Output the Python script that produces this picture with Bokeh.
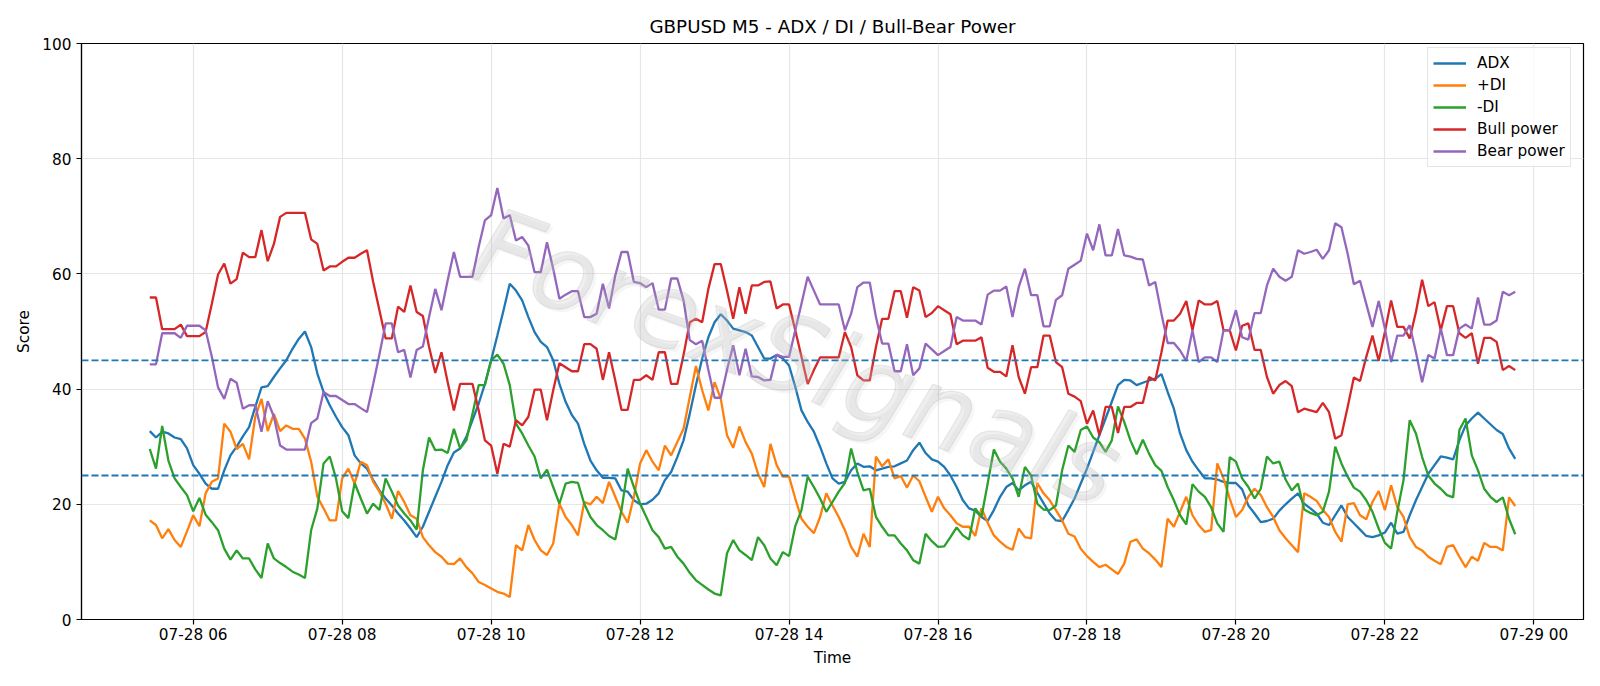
import pandas as pd
from bokeh.plotting import figure
from bokeh.models import (Range1d, FixedTicker, DatetimeTickFormatter, Span,
                          Label, Legend, LegendItem)
from bokeh.embed import file_html
from bokeh.resources import INLINE

# ---- data: GBPUSD M5 indicator scores, 5-minute bars ----
start_time = "2025-07-28 05:25"
bar_count = 221
times = pd.date_range(start_time, periods=bar_count, freq="5min")

adx = [
    32.7, 31.6, 32.6, 32.3, 31.6, 31.3, 29.7, 26.8, 25.3, 23.6,
    22.7, 22.7, 25.9, 28.5, 30.0, 31.8, 33.4, 36.9, 40.3, 40.5,
    42.1, 43.6, 45.0, 47.0, 48.7,
    50.0, 47.3, 42.7, 39.5, 37.2, 35.2, 33.4, 32.0, 28.5, 27.1,
    26.2, 24.2, 22.4, 21.0, 19.8, 18.4, 17.2, 15.8, 14.3, 16.1,
    18.7, 21.3, 23.9, 26.8, 29.0,
    29.7, 31.7, 34.6, 37.5, 40.9, 45.0, 49.3, 53.7, 58.3, 57.1,
    55.4, 52.5, 49.9, 48.2, 47.3, 45.0, 40.9, 37.8, 35.5, 34.0,
    30.5, 27.6, 25.9, 24.6, 24.6,
    24.5, 22.4, 22.2, 20.7, 20.0, 20.1, 20.8, 21.9, 24.2, 25.6,
    28.2, 31.1, 35.7, 40.7, 45.3, 49.0, 51.6, 53.0, 51.9, 50.5,
    50.2, 49.9, 49.3, 47.3, 45.3,
    45.3, 45.9, 45.3, 44.1, 40.4, 36.3, 34.3, 32.6, 30.0, 27.1,
    24.5, 23.6, 23.9, 25.9, 27.1, 26.5, 26.6, 25.9, 26.2, 26.5,
    26.6, 27.1, 27.6, 29.4, 30.7,
    28.9, 27.8, 27.4, 26.5, 25.0, 23.0, 20.7, 19.3, 18.9, 17.8,
    17.1, 19.0, 21.3, 23.0, 23.7, 22.4, 23.3, 23.9, 22.0, 20.2,
    18.4, 17.2, 17.1, 19.0, 21.0,
    23.6, 26.2, 29.1, 32.0, 34.9, 37.8, 40.7, 41.6, 41.5, 40.7,
    41.1, 41.5, 41.8, 42.6, 39.5, 36.6, 32.3, 29.4, 27.4, 25.9,
    24.5, 24.5, 24.3, 23.9, 23.7,
    23.7, 22.6, 19.8, 18.4, 16.9, 17.1, 17.5, 18.9, 20.0, 21.0,
    21.9, 20.1, 19.3, 18.4, 16.8, 16.4, 18.1, 19.8, 17.8, 16.7,
    15.6, 14.5, 14.3, 14.6, 15.1,
    16.8, 14.9, 15.2, 18.1, 20.7, 23.0, 25.3, 26.8, 28.3, 28.1,
    27.8, 31.1, 33.7, 34.9, 35.9, 34.9, 33.9, 32.9, 32.2, 29.7,
    27.9,
]

plus_di = [
    17.2, 16.4, 14.1, 15.7, 13.8, 12.6, 15.3, 18.1, 16.2, 21.9,
    23.9, 24.5, 34.0, 32.6, 29.6, 30.5, 27.8, 35.2, 38.3, 32.7,
    35.7, 32.7, 33.7, 33.1, 33.1,
    31.4, 27.4, 21.3, 19.3, 17.2, 17.2, 24.5, 26.2, 23.6, 27.4,
    26.8, 23.9, 22.2, 20.1, 17.5, 22.3, 20.4, 18.1, 17.5, 14.3,
    12.9, 11.7, 10.9, 9.7, 9.6,
    10.6, 9.1, 8.0, 6.5, 6.0, 5.4, 4.8, 4.5, 3.9, 12.9,
    12.0, 16.4, 13.8, 12.0, 11.2, 13.2, 20.1, 17.8, 16.4, 14.6,
    20.4, 20.0, 21.3, 20.2, 23.9,
    21.3, 18.7, 16.8, 21.3, 27.1, 29.4, 27.4, 25.9, 30.2, 28.5,
    30.8, 33.1, 38.6, 44.0, 39.8, 36.3, 41.2, 38.3, 32.0, 29.8,
    33.5, 30.8, 28.8, 25.3, 23.0,
    30.5, 26.8, 24.8, 24.8, 21.0, 17.5, 16.1, 15.0, 17.8, 21.9,
    19.8, 17.8, 15.5, 12.6, 10.9, 14.9, 12.6, 28.3, 26.6, 27.8,
    24.5, 24.9, 22.9, 25.0, 24.0,
    21.3, 18.7, 21.3, 19.3, 18.1, 16.7, 16.1, 16.1, 14.5, 19.3,
    16.8, 14.6, 13.5, 12.6, 12.1, 15.8, 14.3, 14.1, 23.7, 21.9,
    20.7, 19.0, 17.2, 14.9, 14.4,
    12.3, 11.0, 10.0, 9.1, 9.5, 8.7, 7.9, 9.7, 13.5, 13.9,
    12.3, 11.5, 10.4, 9.1, 17.5, 16.1, 18.7, 21.3, 18.1, 16.4,
    15.2, 15.5, 27.1, 24.5, 21.0,
    17.8, 19.0, 21.3, 22.7, 21.6, 19.5, 17.8, 15.5, 14.1, 12.9,
    11.7, 21.9, 21.3, 20.6, 19.0, 17.8, 15.2, 13.5, 20.0, 20.2,
    18.1, 17.4, 20.4, 22.3, 19.0,
    23.3, 19.5, 17.8, 14.3, 12.6, 12.0, 10.9, 10.2, 9.6, 12.6,
    12.9, 10.9, 9.1, 10.9, 10.2, 13.3, 12.6, 12.6, 12.0, 21.2,
    19.7,
]

minus_di = [
    29.6, 26.2, 33.6, 27.6, 24.5, 23.0, 21.6, 18.8, 21.1, 18.2,
    16.9, 15.5, 12.3, 10.4, 12.0, 10.6, 10.6, 8.7, 7.2, 13.2,
    10.6, 9.8, 9.1, 8.3, 7.8,
    7.2, 15.5, 19.3, 27.1, 28.3, 24.5, 18.8, 17.6, 23.7, 21.0,
    18.4, 20.1, 19.0, 24.5, 22.2, 19.8, 18.4, 17.2, 15.6, 25.9,
    31.6, 29.4, 29.5, 28.9, 33.1,
    29.7, 31.1, 35.7, 40.7, 40.7, 45.0, 46.0, 44.4, 40.7, 34.0,
    32.3, 30.2, 28.3, 24.5, 26.0, 23.0, 20.1, 23.6, 23.9, 23.7,
    20.1, 17.8, 16.4, 15.5, 14.5,
    13.9, 19.0, 26.2, 23.0, 20.1, 17.8, 15.5, 14.3, 12.3, 12.6,
    10.9, 9.7, 8.1, 6.8, 6.0, 5.2, 4.5, 4.2, 11.5, 13.8,
    12.0, 11.2, 10.3, 14.3, 12.9,
    10.6, 9.4, 11.7, 11.0, 16.2, 19.0, 24.8, 23.0, 21.0, 18.7,
    20.4, 22.2, 23.7, 29.7, 25.6, 22.4, 22.7, 17.8, 16.1, 14.6,
    14.6, 13.2, 12.0, 10.3, 9.7,
    14.9, 13.6, 12.6, 12.7, 14.3, 16.0, 14.6, 13.9, 19.3, 17.8,
    23.6, 29.5, 27.4, 26.2, 24.5, 21.3, 26.5, 25.0, 20.1, 19.1,
    19.0, 19.8, 25.9, 30.2, 29.1,
    32.9, 33.5, 31.6, 30.8, 29.1, 31.1, 37.0, 34.3, 31.1, 28.7,
    31.2, 28.8, 26.8, 25.8, 23.0, 20.7, 18.1, 16.5, 23.5, 22.2,
    21.3, 19.5, 16.7, 15.2, 28.2,
    27.4, 24.5, 23.0, 21.0, 22.7, 28.3, 27.1, 27.4, 24.3, 22.4,
    23.6, 19.1, 18.5, 18.1, 18.7, 22.2, 30.0, 27.1, 24.8, 22.9,
    22.2, 20.7, 18.7, 15.8, 13.3,
    12.3, 18.7, 24.2, 34.6, 32.3, 28.2, 25.0, 23.6, 22.7, 21.6,
    21.2, 32.9, 34.9, 28.5, 25.9, 22.7, 21.3, 20.4, 21.2, 17.5,
    14.8,
]

bull_power = [
    55.9, 55.9, 50.4, 50.4, 50.4, 51.2, 49.2, 49.2, 49.2, 49.9,
    54.8, 59.9, 61.8, 58.3, 59.1, 63.7, 62.9, 62.9, 67.6, 62.2,
    65.2, 69.9, 70.6, 70.6, 70.6,
    70.6, 66.0, 65.2, 60.6, 61.3, 61.3, 62.1, 62.8, 62.8, 63.5,
    64.1, 58.6, 53.7, 48.8, 48.8, 54.3, 53.4, 58.0, 53.4, 52.7,
    47.3, 42.8, 46.4, 41.2, 36.3,
    40.9, 40.9, 40.9, 36.3, 31.1, 30.2, 25.3, 30.5, 30.0, 34.6,
    33.7, 35.2, 39.9, 39.9, 34.6, 39.8, 44.5, 43.8, 43.1, 43.1,
    47.8, 47.8, 47.0, 41.6, 46.4,
    41.5, 36.4, 36.4, 41.6, 41.6, 42.4, 41.6, 46.4, 46.4, 40.9,
    40.9, 45.9, 51.6, 52.2, 51.6, 57.4, 61.7, 61.7, 57.1, 52.2,
    57.7, 53.1, 58.0, 58.0, 58.6,
    58.7, 54.0, 54.7, 54.7, 50.2, 45.6, 40.9, 43.3, 45.5, 45.5,
    45.5, 45.5, 49.9, 47.3, 42.4, 41.5, 41.5, 47.3, 52.2, 52.2,
    57.0, 57.0, 52.4, 57.7, 57.1,
    52.5, 53.2, 54.4, 53.7, 53.0, 47.8, 48.4, 48.4, 48.4, 49.0,
    43.7, 43.0, 43.0, 42.2, 47.6, 42.1, 39.2, 43.8, 43.8, 49.3,
    49.3, 44.7, 43.8, 39.2, 38.7,
    37.9, 34.0, 36.3, 32.0, 36.9, 36.9, 32.4, 36.9, 36.9, 37.6,
    37.6, 42.1, 41.5, 46.4, 51.9, 51.9, 53.1, 55.3, 50.2, 55.4,
    54.7, 54.7, 55.3, 50.2, 50.2,
    46.7, 51.0, 51.4, 46.8, 46.8, 42.1, 39.2, 40.7, 41.4, 40.5,
    36.0, 36.6, 36.3, 36.0, 37.6, 36.0, 31.4, 32.0, 36.9, 42.0,
    41.4, 45.6, 49.3, 44.9, 49.9,
    55.4, 50.8, 50.8, 48.8, 53.4, 59.0, 54.4, 55.1, 50.2, 54.4,
    54.4, 49.7, 48.9, 49.7, 44.4, 48.9, 48.9, 48.2, 43.3, 44.0,
    43.3,
]

bear_power = [
    44.3, 44.3, 49.7, 49.7, 49.7, 48.9, 51.0, 51.0, 51.0, 50.2,
    45.6, 40.3, 38.3, 41.8, 41.1, 36.6, 37.2, 37.2, 32.6, 37.9,
    35.2, 30.2, 29.5, 29.5, 29.5,
    29.5, 34.1, 34.9, 39.5, 38.8, 38.8, 38.1, 37.4, 37.4, 36.7,
    36.0, 40.9, 46.0, 51.4, 51.4, 46.4, 46.8, 42.0, 46.8, 47.4,
    52.5, 57.4, 53.7, 58.9, 63.8,
    59.5, 59.5, 59.5, 64.7, 69.3, 70.2, 74.9, 69.6, 70.2, 65.8,
    66.4, 64.9, 60.3, 60.3, 65.5, 60.9, 55.7, 56.4, 57.0, 57.0,
    52.5, 52.5, 53.1, 58.3, 54.0,
    59.7, 63.8, 63.8, 58.6, 58.4, 57.7, 58.4, 53.8, 53.8, 59.2,
    59.2, 55.4, 48.5, 47.8, 48.4, 43.3, 38.5, 38.5, 43.3, 47.6,
    42.4, 47.0, 42.2, 42.1, 41.5,
    41.6, 46.0, 45.6, 45.6, 50.2, 54.8, 59.5, 57.1, 54.7, 54.7,
    54.7, 54.7, 50.2, 53.1, 57.7, 58.5, 58.5, 52.5, 47.9, 47.9,
    43.1, 43.1, 47.8, 42.4, 43.6,
    47.9, 46.9, 45.9, 46.6, 47.3, 52.5, 51.9, 51.9, 51.9, 51.2,
    56.4, 57.1, 57.1, 57.8, 52.5, 57.7, 60.9, 56.3, 56.3, 50.9,
    50.9, 55.5, 56.3, 60.9, 61.6,
    62.3, 67.0, 64.1, 68.6, 63.2, 63.2, 67.8, 63.2, 63.0, 62.6,
    62.5, 58.0, 58.6, 53.1, 48.0, 48.0, 46.7, 44.9, 50.2, 44.7,
    45.5, 45.5, 44.7, 50.2, 50.2,
    53.7, 49.0, 48.6, 53.2, 53.2, 58.0, 60.9, 59.5, 58.8, 59.5,
    64.1, 63.5, 63.8, 64.2, 62.6, 64.1, 68.8, 68.1, 63.5, 58.2,
    58.8, 54.8, 50.8, 55.3, 50.5,
    44.7, 49.3, 49.3, 51.1, 46.4, 41.2, 45.9, 45.3, 50.5, 45.9,
    45.9, 50.5, 51.2, 50.5, 55.9, 51.2, 51.2, 51.9, 56.9, 56.3,
    56.9,
]

series_names = ["ADX", "+DI", "-DI", "Bull power", "Bear power"]
series_values = [adx, plus_di, minus_di, bull_power, bear_power]
series_colors = ["#1f77b4", "#ff7f0e", "#2ca02c", "#d62728", "#9467bd"]

threshold_levels = [25, 45]

x_tick_times = ["2025-07-28 06:00", "2025-07-28 08:00", "2025-07-28 10:00",
                "2025-07-28 12:00", "2025-07-28 14:00", "2025-07-28 16:00",
                "2025-07-28 18:00", "2025-07-28 20:00", "2025-07-28 22:00",
                "2025-07-29 00:00"]
y_ticks = [0, 20, 40, 60, 80, 100]

FONT = "DejaVu Sans"
TICK_SIZE = "15.3px"


def to_ms(t):
    return pd.Timestamp(t).value / 1e6


# x range padded by 5% of the data span on each side
t0, t1 = to_ms(times[0]), to_ms(times[-1])
pad = 0.05 * (t1 - t0)

p = figure(width=1600, height=686, x_axis_type="datetime",
           x_range=Range1d(t0 - pad, t1 + pad), y_range=Range1d(0, 100),
           output_backend="svg", toolbar_location=None,
           min_border_left=81, min_border_right=17,
           min_border_top=43, min_border_bottom=67,
           title="GBPUSD M5 - ADX / DI / Bull-Bear Power")

p.background_fill_color = "white"
p.border_fill_color = "white"
p.outline_line_color = "black"
p.outline_line_width = 1.2

p.title.text_font = FONT
p.title.text_font_size = "18.3px"
p.title.text_font_style = "normal"
p.title.text_color = "black"
p.title.align = "center"
p.title.standoff = 13

p.xaxis.ticker = FixedTicker(ticks=[to_ms(t) for t in x_tick_times])
fmt = "%m-%d %H"
p.xaxis.formatter = DatetimeTickFormatter(hours=fmt, hourmin=fmt, days=fmt,
                                          minutes=fmt, months=fmt)
p.yaxis.ticker = FixedTicker(ticks=y_ticks)

for ax in (p.xaxis, p.yaxis):
    ax.axis_line_color = "black"
    ax.axis_line_width = 1.2
    ax.major_tick_line_color = "black"
    ax.major_tick_line_width = 1.2
    ax.major_tick_out = 5
    ax.major_tick_in = 0
    ax.minor_tick_out = 0
    ax.minor_tick_in = 0
    ax.major_label_text_font = FONT
    ax.major_label_text_font_size = TICK_SIZE
    ax.major_label_text_color = "black"
    ax.axis_label_text_font = FONT
    ax.axis_label_text_font_size = TICK_SIZE
    ax.axis_label_text_font_style = "normal"
    ax.axis_label_text_color = "black"

p.xaxis.major_label_standoff = 1
p.xaxis.axis_label_standoff = 2
p.yaxis.major_label_standoff = 5
p.yaxis.axis_label_standoff = 6

p.xaxis.axis_label = "Time"
p.yaxis.axis_label = "Score"

p.grid.grid_line_color = "#e6e6e6"
p.grid.grid_line_width = 1.2

# indicator lines
renderers = []
for name, vals, col in zip(series_names, series_values, series_colors):
    r = p.line(times, vals, line_color=col, line_width=2.3)
    renderers.append((name, r))

# threshold guides
for lvl in threshold_levels:
    p.add_layout(Span(location=lvl, dimension="width", line_color="#1f77b4",
                      line_width=1.8, line_dash="7 3"))

legend = Legend(items=[LegendItem(label=n, renderers=[r]) for n, r in renderers],
                location=(1346, 452), margin=0, padding=5, spacing=2,
                glyph_width=33, glyph_height=20, label_height=20,
                label_standoff=11, label_text_font=FONT,
                label_text_font_size=TICK_SIZE, label_text_color="black",
                border_line_color="#cccccc", border_line_width=1.2,
                background_fill_color="white", background_fill_alpha=0.8)
p.add_layout(legend)

# brand watermark across the plot: soft shadow plus a light grey mark
WATERMARK_TEXT = "ForexSignals"
wm_x = to_ms("2025-07-28 14:06")
wm_y = 45.5
wm_common = dict(x=wm_x, y=wm_y, text=WATERMARK_TEXT, angle=-20,
                 angle_units="deg", text_align="center",
                 text_baseline="middle", text_font=FONT,
                 text_font_style="italic", text_font_size="106px")
shadow = Label(x_offset=3, y_offset=-3, text_color="#d4d4d4",
               text_alpha=0.2, **wm_common)
p.add_layout(shadow)
try:
    mark = Label(text_color="#a8a8a8", text_alpha=0.18,
                 text_outline_color="#9c9c9c", **wm_common)
except AttributeError:
    mark = Label(text_color="#a8a8a8", text_alpha=0.22, **wm_common)
p.add_layout(mark)

open("out.html", "w").write(file_html(p, INLINE))
